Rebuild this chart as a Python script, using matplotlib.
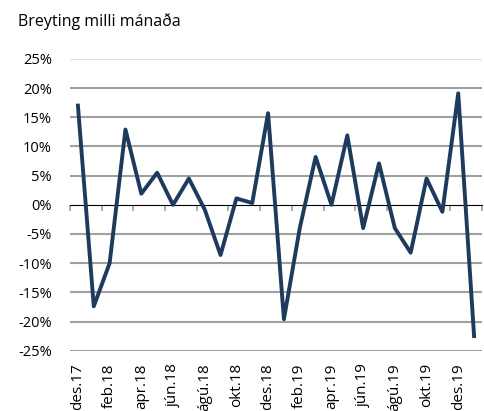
import matplotlib
matplotlib.use("Agg")
import matplotlib.pyplot as plt
import numpy as np

months = ['des.17', 'jan.18', 'feb.18', 'mar.18', 'apr.18', 'maí.18', 'jún.18',
          'júl.18', 'ágú.18', 'sep.18', 'okt.18', 'nóv.18', 'des.18', 'jan.19',
          'feb.19', 'mar.19', 'apr.19', 'maí.19', 'jún.19', 'júl.19', 'ágú.19',
          'sep.19', 'okt.19', 'nóv.19', 'des.19', 'jan.20']
change = [17.0, -17.4, -10.0, 12.9, 1.9, 5.5, 0.0, 4.5, -0.8, -8.6, 1.1, 0.3,
          15.7, -19.6, -4.0, 8.2, 0.0, 11.9, -4.0, 7.1, -4.0, -8.2, 4.5, -1.2,
          19.1, -22.5]
yticks = [-25, -20, -15, -10, -5, 0, 5, 10, 15, 20, 25]

plt.rcParams['font.family'] = ['Open Sans', 'DejaVu Sans']

fig = plt.figure(figsize=(4.85, 4.11), dpi=100)
ax = fig.add_axes([70 / 485, 1 - 350.7 / 411, 412 / 485, 291.8 / 411])

x = np.arange(len(change))
ax.plot(x, change, color='#1e3a5c', linewidth=2.8, solid_joinstyle='round', zorder=3)

ax.set_xlim(-0.5, len(change) - 0.5)
ax.set_ylim(-25, 25)
ax.set_yticks(yticks)
ax.set_yticklabels([f'{v}%' for v in yticks], fontsize=10.5)
for v in yticks:
    if v == 25:
        ax.axhline(v, color='#d9d9d9', linewidth=1.2, zorder=1)
    elif v != 0:
        ax.axhline(v, color='#a0a0a0', linewidth=1.5, zorder=1)

for s in ax.spines.values():
    s.set_visible(False)
ax.tick_params(axis='y', length=0, pad=13, colors='#000000')

ax.set_xticks(x[::2])
ax.set_xticklabels(months[::2], rotation=90, fontsize=11)
ax.tick_params(axis='x', length=0, pad=9)

# zero line with tick marks between every second category
zero = ax.secondary_xaxis(0.5)
zero.spines['bottom'].set_color('#a0a0a0')
zero.spines['bottom'].set_linewidth(1.5)
zero.set_xticks(np.arange(-0.5, len(change), 2))
zero.set_xticklabels([])
zero.tick_params(axis='x', direction='in', length=4, width=1.2, color='#a0a0a0')

fig.text(18 / 485, 1 - 22 / 411, 'Breyting milli mánaða', fontsize=11.5, va='center')

fig.savefig('out.png', dpi=100)
